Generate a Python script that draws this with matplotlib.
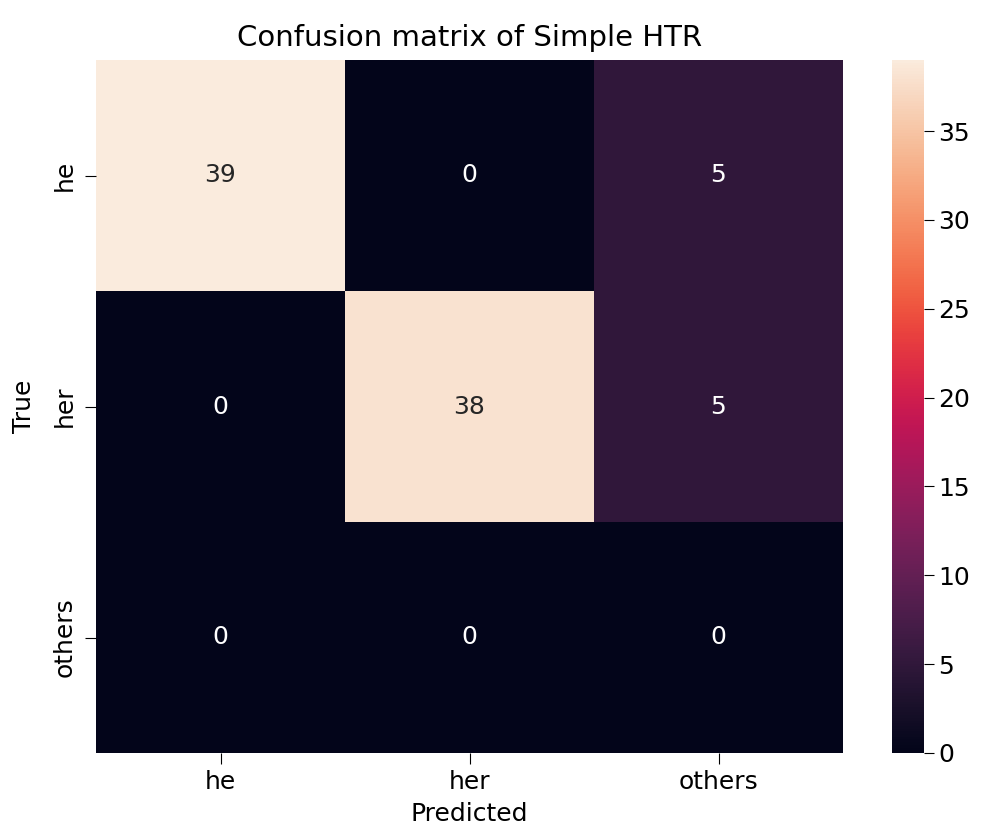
import numpy as np
import matplotlib
matplotlib.use("Agg")
import matplotlib.pyplot as plt
import seaborn as sns

# confusion matrix values (rows = true, cols = predicted)
labels = ["he", "her", "others"]
cm = np.array([[39, 0, 5],
               [0, 38, 5],
               [0, 0, 0]])

W, H = 981, 835
fig = plt.figure(figsize=(W / 100., H / 100.), dpi=100)
ax = fig.add_axes([96. / W, (H - 753.) / H, 747. / W, 693. / H])
cax = fig.add_axes([892. / W, (H - 753.) / H, 32. / W, 693. / H])

fs = 18
sns.heatmap(cm, annot=True, fmt="d", cmap="rocket", ax=ax, cbar_ax=cax,
            xticklabels=labels, yticklabels=labels,
            annot_kws={"fontsize": fs})

ax.set_title("Confusion matrix of Simple HTR", fontsize=21, pad=10)
ax.set_xlabel("Predicted", fontsize=fs, labelpad=6)
ax.set_ylabel("True", fontsize=fs, labelpad=12)
ax.tick_params(axis="x", labelsize=fs, length=8, pad=4)
ax.tick_params(axis="y", labelsize=fs, length=8, pad=6)
cax.tick_params(labelsize=fs, length=7)

fig.savefig("out.png", dpi=100)
